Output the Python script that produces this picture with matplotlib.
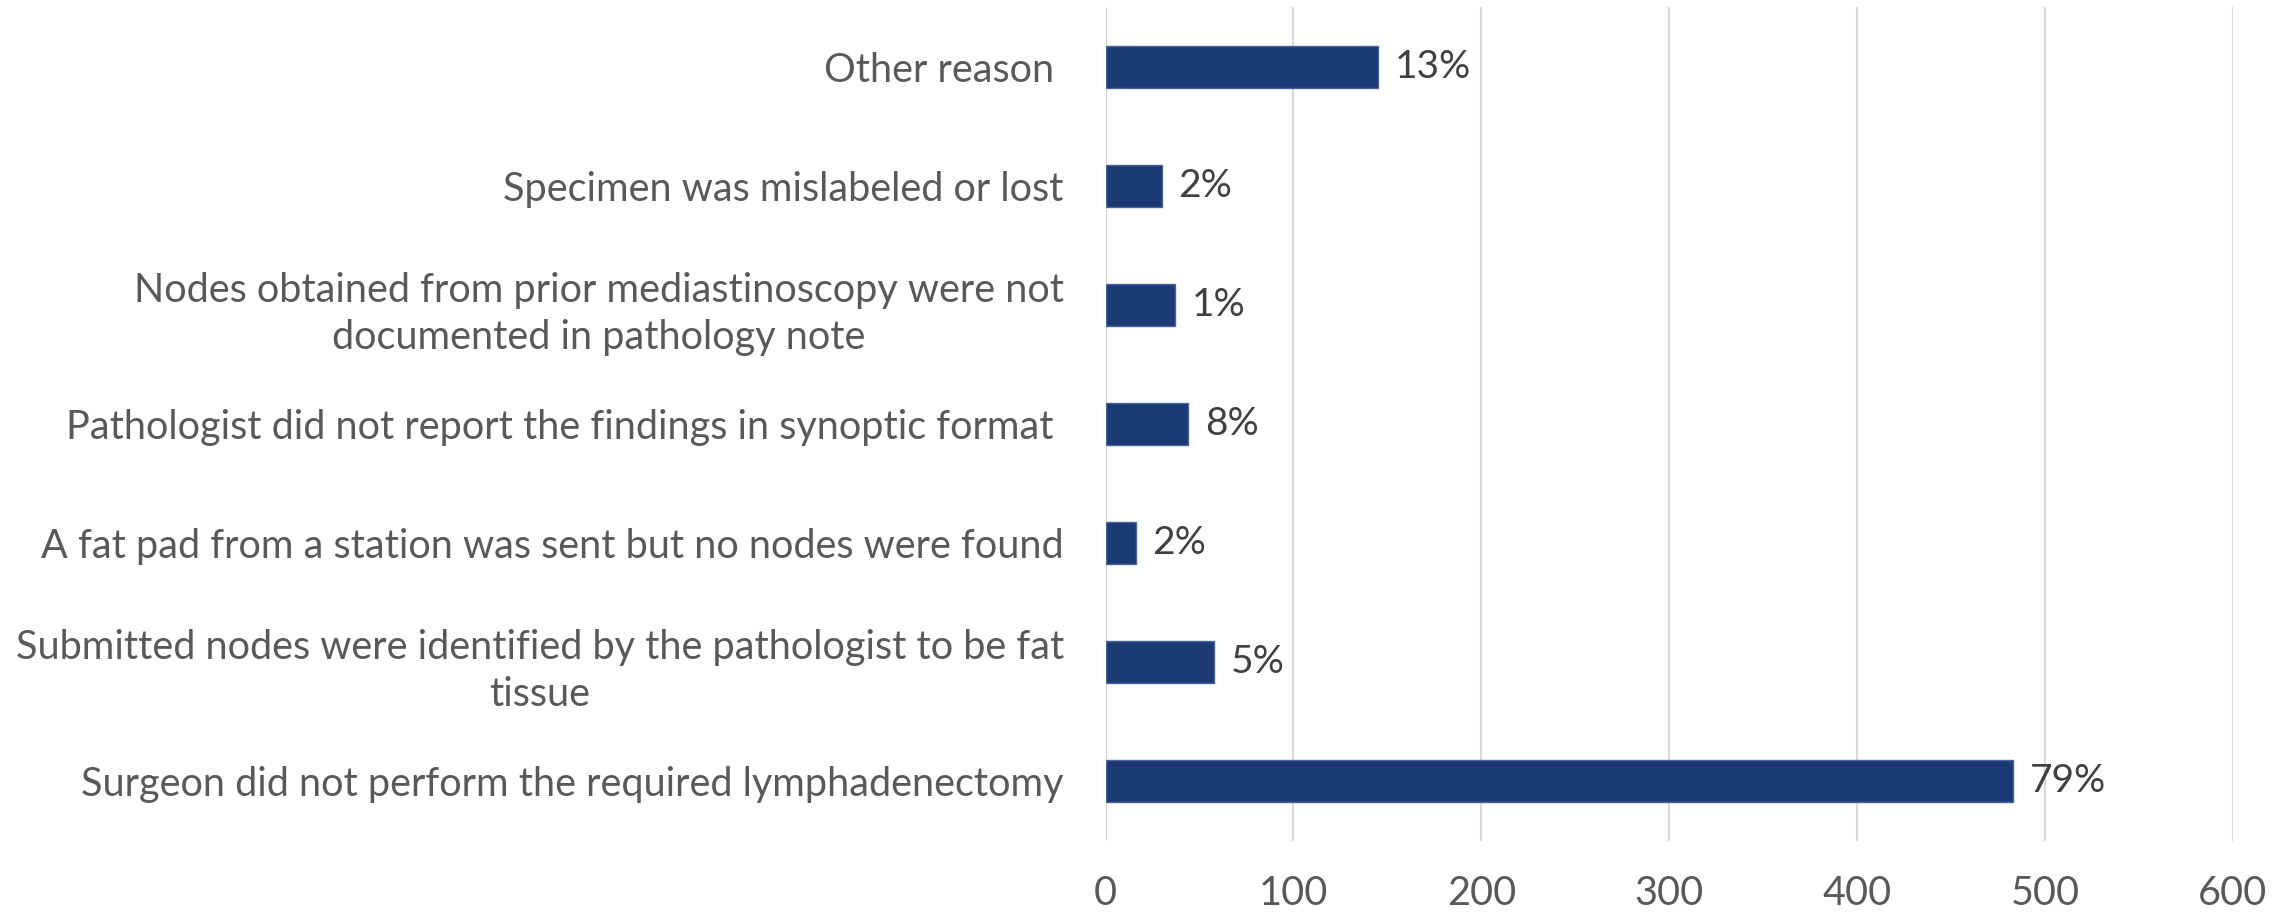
import matplotlib.pyplot as plt
import numpy as np

plt.rcParams['font.family'] = ['Lato', 'DejaVu Sans']

# categories, bottom to top
reasons = [
    "Surgeon did not perform the required lymphadenectomy",
    "Submitted nodes were identified by the pathologist to be fat\ntissue",
    "A fat pad from a station was sent but no nodes were found",
    "Pathologist did not report the findings in synoptic format ",
    "Nodes obtained from prior mediastinoscopy were not\ndocumented in pathology note",
    "Specimen was mislabeled or lost",
    "Other reason ",
]
counts = [483, 58, 16, 44, 37, 30, 145]
pct_labels = ["79%", "5%", "2%", "8%", "1%", "2%", "13%"]
xticks = [0, 100, 200, 300, 400, 500, 600]

fig = plt.figure(figsize=(22.95, 9.14), dpi=100)
ax = fig.add_axes([0.4817, 0.0804, 0.4912, 0.9114])

y = np.arange(len(reasons))
bars = ax.barh(y, counts, height=0.354, color='#1B3A75', edgecolor='#4A6499', linewidth=1, zorder=3)

for b, lab in zip(bars, pct_labels):
    ax.annotate(lab, (b.get_width(), b.get_y() + b.get_height() / 2),
                xytext=(12, 0), textcoords='offset points',
                ha='left', va='center', fontsize=28, color='#404040')

ax.set_xlim(0, 600)
ax.set_ylim(-0.5, len(reasons) - 0.5)
ax.set_xticks(xticks)
ax.set_xticklabels([str(t) for t in xticks])
ax.set_yticks(y)
ax.set_yticklabels(reasons, multialignment='center', linespacing=1.35)
ax.tick_params(axis='both', length=0, labelsize=28.5, colors='#595959')
ax.tick_params(axis='y', pad=30)
ax.tick_params(axis='x', pad=25)
ax.grid(axis='x', color='#D9D9D9', linewidth=1.5, zorder=0)
for s in ax.spines.values():
    s.set_visible(False)

fig.savefig('out.png', dpi=100)
